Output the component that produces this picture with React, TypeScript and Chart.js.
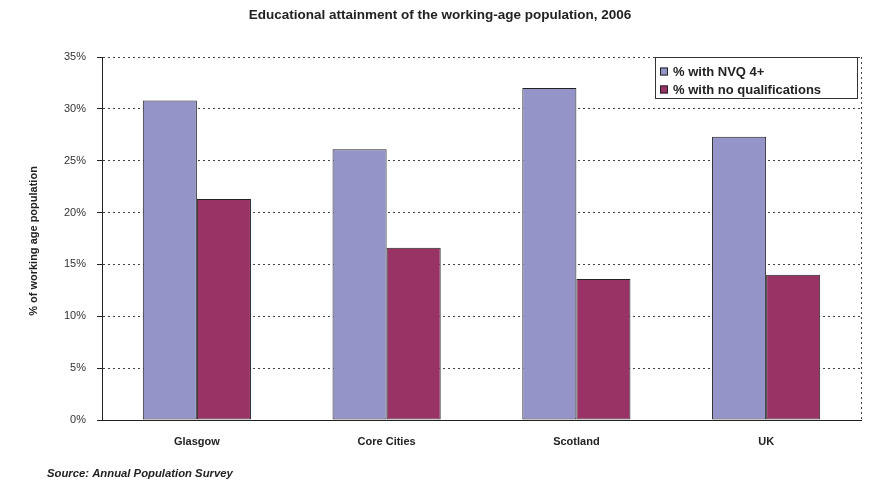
import React, { useEffect, useRef } from "react";
import { Chart, registerables } from "chart.js";

Chart.register(...registerables);

const categories = ["Glasgow", "Core Cities", "Scotland", "UK"];
const nvq4 = [30.8, 26.1, 32.0, 27.3];
const noQual = [21.3, 16.6, 13.6, 14.0];
const seriesNames = ["% with NVQ 4+", "% with no qualifications"];
const seriesColors = ["#9494C8", "#993366"];
const titleText = "Educational attainment of the working-age population, 2006";
const yTitle = "% of working age population";
const sourceText = "Source: Annual Population Survey";

const FONT = "'Liberation Sans', Arial, sans-serif";

export default function App() {
  const ref = useRef<HTMLCanvasElement | null>(null);
  useEffect(() => {
    document.body.style.margin = "0";
    const canvas = ref.current!;
    const decor = {
      id: "decor",
      afterDraw(chart: any) {
        const ctx = chart.ctx;
        const a = chart.chartArea;
        ctx.save();
        // right dotted border
        ctx.strokeStyle = "#444";
        ctx.lineWidth = 1;
        ctx.setLineDash([2, 3]);
        ctx.beginPath();
        ctx.moveTo(a.right + 0.5, a.top);
        ctx.lineTo(a.right + 0.5, a.bottom);
        ctx.stroke();
        ctx.setLineDash([]);
        // title
        ctx.fillStyle = "#222";
        ctx.font = `bold 13.5px ${FONT}`;
        ctx.textAlign = "center";
        ctx.textBaseline = "middle";
        ctx.fillText(titleText, 440, 15);
        // y title
        ctx.save();
        ctx.translate(34, 241);
        ctx.rotate(-Math.PI / 2);
        ctx.font = `bold 11px ${FONT}`;
        ctx.fillText(yTitle, 0, 0);
        ctx.restore();
        // source
        ctx.textAlign = "left";
        ctx.font = `italic bold 11.3px ${FONT}`;
        ctx.fillText(sourceText, 47, 474);
        // legend
        const lx = 655, ly = 57, lw = 202, lh = 41;
        ctx.fillStyle = "#fff";
        ctx.fillRect(lx, ly, lw, lh);
        ctx.strokeStyle = "#333";
        ctx.strokeRect(lx + 0.5, ly + 0.5, lw, lh);
        ctx.font = `bold 13px ${FONT}`;
        seriesNames.forEach((n, i) => {
          const cy = ly + 14.5 + i * 18;
          ctx.fillStyle = seriesColors[i];
          ctx.fillRect(lx + 5, cy - 4, 8, 8);
          ctx.strokeStyle = "#222";
          ctx.strokeRect(lx + 5.5, cy - 3.5, 7, 7);
          ctx.fillStyle = "#222";
          ctx.fillText(n, lx + 18, cy + 1);
        });
        ctx.restore();
      },
    };
    const chart = new Chart(canvas, {
      type: "bar",
      data: {
        labels: categories,
        datasets: [
          {
            label: seriesNames[0],
            data: nvq4,
            backgroundColor: seriesColors[0],
            borderColor: "#222",
            borderWidth: 1,
            borderSkipped: false,
            categoryPercentage: 0.57,
            barPercentage: 1,
          },
          {
            label: seriesNames[1],
            data: noQual,
            backgroundColor: seriesColors[1],
            borderColor: "#222",
            borderWidth: 1,
            borderSkipped: false,
            categoryPercentage: 0.57,
            barPercentage: 1,
          },
        ],
      },
      options: {
        animation: false,
        responsive: false,
        maintainAspectRatio: false,
        layout: { padding: { top: 57, right: 19, left: 0, bottom: 0 } },
        plugins: {
          legend: { display: false },
          tooltip: { enabled: false },
          title: { display: false },
        },
        scales: {
          x: {
            grid: { display: false, drawTicks: false },
            border: { display: true, color: "#222", width: 1 },
            ticks: {
              color: "#222",
              font: { family: FONT, size: 11, weight: "bold" },
              padding: 15,
            },
            afterFit: (s: any) => {
              s.height = 62;
            },
          },
          y: {
            min: 0,
            max: 35,
            grid: {
              color: "#444",
              lineWidth: 1,
              tickLength: 5,
              tickColor: "#222",
              drawTicks: true,
            },
            border: { display: true, color: "#222", width: 1, dash: [2, 3] },
            ticks: {
              stepSize: 5,
              color: "#333",
              font: { family: FONT, size: 11 },
              padding: 11,
              callback: (v: any) => v + "%",
            },
            afterFit: (s: any) => {
              s.width = 102;
            },
          },
        },
      },
      plugins: [decor],
    });
    return () => chart.destroy();
  }, []);
  return (
    <div style={{ width: 880, height: 482, background: "#fff" }}>
      <canvas ref={ref} width={880} height={482} style={{ display: "block" }} />
    </div>
  );
}
